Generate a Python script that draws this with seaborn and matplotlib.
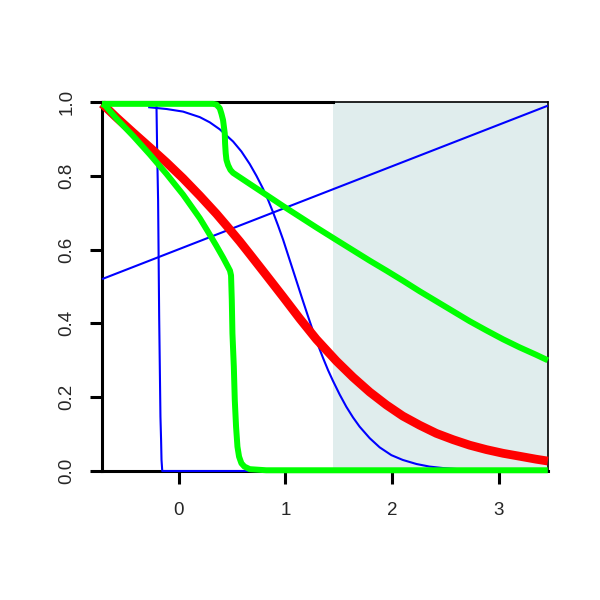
import numpy as np
import pandas as pd
import matplotlib
matplotlib.use("Agg")
import matplotlib.pyplot as plt
import seaborn as sns

# values
line_x = [-0.72, 3.46]
line_y = [0.52, 0.99]

step_x = [-0.212, -0.209, -0.203, -0.194, -0.184, -0.178, -0.172, -0.166, -0.162,
          -0.155, 0.6, 3.46]
step_y = [1.0, 0.987, 0.87, 0.734, 0.418, 0.283, 0.147, 0.084, 0.03, 0.0, 0.0, 0.0]

sig_x = [-0.287, -0.115, 0.04, 0.197, 0.29, 0.384, 0.509, 0.587, 0.665, 0.728, 0.79,
         0.837, 0.884, 0.931, 0.978, 1.025, 1.071, 1.118, 1.165, 1.212, 1.259, 1.306,
         1.353, 1.40, 1.446, 1.509, 1.571, 1.634, 1.696, 1.79, 1.884, 1.993, 2.10,
         2.228, 2.35, 2.477, 2.62]
sig_y = [0.986, 0.981, 0.974, 0.959, 0.945, 0.926, 0.893, 0.866, 0.832, 0.800, 0.765,
         0.735, 0.701, 0.665, 0.627, 0.585, 0.544, 0.502, 0.460, 0.419, 0.379, 0.341,
         0.306, 0.273, 0.244, 0.207, 0.174, 0.145, 0.120, 0.089, 0.064, 0.043, 0.030,
         0.019, 0.012, 0.008, 0.005]

red_x = [-0.72, -0.678, -0.584, -0.428, -0.272, -0.115, 0.04, 0.197, 0.353, 0.462,
         0.572, 0.665, 0.822, 0.978, 1.134, 1.29, 1.478, 1.634, 1.79, 1.947, 2.10,
         2.259, 2.415, 2.571, 2.727, 2.884, 3.04, 3.196, 3.35, 3.46]
red_y = [0.995, 0.984, 0.958, 0.917, 0.877, 0.836, 0.793, 0.746, 0.697, 0.660,
         0.622, 0.588, 0.530, 0.472, 0.413, 0.357, 0.298, 0.254, 0.214, 0.179, 0.149,
         0.124, 0.102, 0.085, 0.070, 0.058, 0.048, 0.040, 0.032, 0.027]

g1_x = [-0.72, 0.32, 0.353, 0.384, 0.40, 0.415, 0.431, 0.434, 0.44, 0.447, 0.462,
        0.484, 0.509, 0.665, 0.822, 0.978, 1.134, 1.29, 1.478, 1.634, 1.79, 1.947,
        2.10, 2.259, 2.415, 2.571, 2.727, 2.884, 3.04, 3.196, 3.35, 3.46]
g1_y = [0.995, 0.995, 0.993, 0.983, 0.968, 0.951, 0.915, 0.888, 0.861, 0.843, 0.829,
        0.816, 0.808, 0.778, 0.748, 0.718, 0.689, 0.660, 0.626, 0.598, 0.570, 0.543,
        0.516, 0.487, 0.460, 0.433, 0.406, 0.381, 0.357, 0.335, 0.315, 0.30]

g2_x = [-0.72, -0.69, -0.584, -0.428, -0.272, -0.115, 0.04, 0.197, 0.275, 0.353,
        0.416, 0.462, 0.48, 0.49, 0.497, 0.503, 0.516, 0.525, 0.537, 0.55, 0.565,
        0.587, 0.615, 0.665, 0.82, 3.46]
g2_y = [0.995, 0.99, 0.955, 0.908, 0.858, 0.805, 0.749, 0.685, 0.648, 0.610,
        0.578, 0.553, 0.543, 0.53, 0.463, 0.373, 0.283, 0.192, 0.12, 0.066, 0.039,
        0.021, 0.012, 0.005, 0.002, 0.002]

shade_from = 1.45
x_ticks = [0, 1, 2, 3]
y_ticks = [0.0, 0.2, 0.4, 0.6, 0.8, 1.0]

sns.set_theme(style="white")
plt.rcParams["font.family"] = ["Liberation Sans", "DejaVu Sans"]

fig = plt.figure(figsize=(6, 6), dpi=100)
ax = fig.add_axes([0.17, 0.215, 0.743, 0.615])

xmin, xmax = -0.72, 3.46
ax.axvspan(shade_from, xmax, facecolor="#E0EDED", edgecolor="none", zorder=1)

blue = "#0000FF"
green = "#00FF00"
sns.lineplot(x=line_x, y=line_y, color=blue, linewidth=1.5, ax=ax, zorder=3)
sns.lineplot(x=step_x, y=step_y, color=blue, linewidth=1.5, ax=ax, zorder=3)
sns.lineplot(x=sig_x, y=sig_y, color=blue, linewidth=1.5, ax=ax, zorder=3)
sns.lineplot(x=red_x, y=red_y, color="#FF0000", linewidth=6.3, ax=ax, zorder=4)
sns.lineplot(x=g1_x, y=g1_y, color=green, linewidth=4.3, ax=ax, zorder=5)
sns.lineplot(x=g2_x, y=g2_y, color=green, linewidth=4.3, ax=ax, zorder=5)
for l in ax.lines:
    l.set_clip_on(False)
    l.set_solid_capstyle("butt")
    l.set_solid_joinstyle("round")

# thin frame over the shaded part
ax.plot([shade_from, xmax], [1, 1], color="black", linewidth=1.2, clip_on=False, zorder=6)

ax.set_xlim(xmin, xmax)
ax.set_ylim(0, 1)
ax.set_xticks(x_ticks)
ax.set_yticks(y_ticks)
ax.set_xticklabels([str(t) for t in x_ticks])
ax.set_yticklabels([f"{t:.1f}" for t in y_ticks], rotation=90, va="center")

for s in ["left", "bottom", "top"]:
    ax.spines[s].set_linewidth(2.2)
    ax.spines[s].set_color("black")
ax.spines["right"].set_linewidth(1.2)
ax.spines["right"].set_color("black")
ax.spines["top"].set_bounds(xmin, shade_from)

ax.tick_params(axis="both", direction="out", length=9, width=2.2, color="black",
               labelsize=13.5, left=True, bottom=True)
ax.tick_params(axis="x", pad=13)
ax.tick_params(axis="y", pad=10)
ax.set_facecolor("white")

fig.savefig("out.png", dpi=100)
